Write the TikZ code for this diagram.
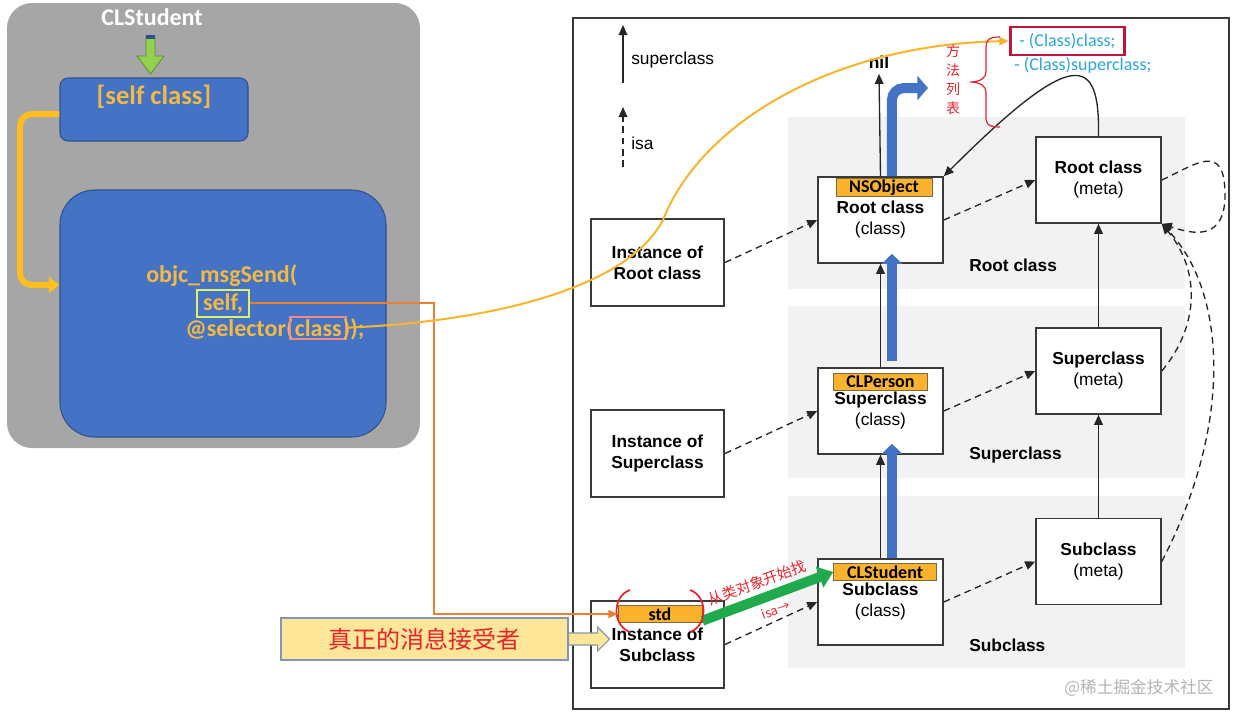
\documentclass[tikz,border=0pt]{standalone}
\usepackage{fontspec}
\setmainfont{Liberation Sans}
\newfontfamily\calfont{Carlito}
\newfontfamily\cjkfont{Noto Sans CJK SC}
\usetikzlibrary{arrows.meta,positioning}
\definecolor{panelgray}{HTML}{A6A6A6}
\definecolor{msgblue}{HTML}{4472C4}
\definecolor{msgblueline}{HTML}{2F528F}
\definecolor{codegold}{HTML}{F4B942}
\definecolor{elbowgold}{HTML}{FFBE1E}
\definecolor{selfgreen}{HTML}{DDF06A}
\definecolor{classpink}{HTML}{F08C84}
\definecolor{lineorange}{HTML}{ED7D31}
\definecolor{curvegold}{HTML}{F7B52C}
\definecolor{tagfill}{HTML}{FBB22C}
\definecolor{tagline}{HTML}{7A6A40}
\definecolor{bandgray}{HTML}{F2F2F2}
\definecolor{boxline}{HTML}{3A3A3A}
\definecolor{pathgreen}{HTML}{1FAA4E}
\definecolor{downgreen}{HTML}{92D050}
\definecolor{downgreenline}{HTML}{5E8C32}
\definecolor{notefill}{HTML}{FFE699}
\definecolor{noteline}{HTML}{8497B0}
\definecolor{notered}{HTML}{E8232B}
\definecolor{methodblue}{HTML}{2BA6E1}
\definecolor{crimsonbox}{HTML}{C0143C}
\definecolor{markgray}{HTML}{B4B4B4}
\begin{document}
\begin{tikzpicture}[x=0.75pt,y=-0.75pt,
  blackhead/.style={-{Triangle[length=7.5pt,width=6.5pt]}},
  clsbox/.style={draw=boxline,line width=1.2pt,fill=white,minimum width=93.75pt,
    minimum height=64.5pt,inner sep=0pt,align=center,font=\fontsize{13}{15.75}\selectfont},
  instbox/.style={clsbox,minimum width=100pt,minimum height=65pt},
  nametag/.style={draw=tagline,line width=0.6pt,fill=tagfill,inner sep=0pt,
    minimum height=13pt,font=\calfont\bfseries\fontsize{13.5}{14}\selectfont},
  isaline/.style={blackhead,line width=1pt,dash pattern=on 5pt off 3.5pt,draw=black!85},
  supline/.style={blackhead,line width=1pt,draw=black!85},
  bluepath/.style={draw=msgblue,line width=7.5pt,-{Triangle[length=7.5pt,width=15pt]}},
  codetxt/.style={text=codegold,font=\calfont\bfseries\fontsize{18}{20}\selectfont,inner sep=0pt},
  bandlbl/.style={font=\bfseries\fontsize{13}{15}\selectfont,inner sep=0pt},
  methodtxt/.style={text=methodblue,font=\calfont\fontsize{13.5}{15}\selectfont,inner sep=0pt},
  redtxt/.style={text=notered,font=\cjkfont\fontsize{11}{13}\selectfont,inner sep=0pt}]
  \useasboundingbox (0,0) rectangle (1240,719);

  % left panel: [self class] -> objc_msgSend
  \fill[panelgray,rounded corners=18.75pt] (7,3) rectangle (420,448);
  \node[fill=msgblue,draw=msgblueline,line width=0.8pt,rounded corners=6pt,
    minimum width=141pt,minimum height=47.25pt] (selfcls) at (154,109.5) {};
  \node[fill=msgblue,draw=msgblueline,line width=0.8pt,rounded corners=26pt,
    minimum width=244.5pt,minimum height=185.25pt] (msgbox) at (223,313.5) {};
  \node[text=white,font=\calfont\bfseries\fontsize{18}{20}\selectfont] (topname) at (152,17) {CLStudent};
  \draw[fill=downgreen,draw=downgreenline,line width=0.6pt]
    (146,56) -- (146,36) -- (155,36) -- (155,56) -- (164,56) -- (150.5,74) -- (137,56) -- cycle;
  \fill[msgblueline] (146,35) rectangle (155,39);
  \node[codetxt,font=\calfont\bfseries\fontsize{20}{22}\selectfont] (selfclstxt) at (154,97) {[self class]};
  \node[codetxt,anchor=base west] (line1) at (146,282) {objc\_msgSend(};
  \node[codetxt,anchor=base west,draw=selfgreen,line width=1.5pt,inner xsep=4.5pt,inner ysep=2.5pt]
    (selfw) at (196,310) {self,};
  \node[codetxt,anchor=base west] (sel) at (185,336) {@selector(};
  \node[codetxt,anchor=base west,draw=classpink,line width=1.5pt,inner xsep=3.4pt,inner ysep=2pt]
    (clsw) at ([xshift=-3.4pt]sel.base east) {class};
  \node[codetxt,anchor=base west] (tail) at ([xshift=-3.4pt]clsw.base east) {));};
  \coordinate (elbow) at (20,285);
  \draw[draw=elbowgold,line width=4.5pt,rounded corners=9pt,-{Triangle[length=8pt,width=12pt]}]
    ([yshift=-3.4pt]selfcls.west) -| (elbow) -- (msgbox.west |- elbow);

  % right panel
  \draw[boxline,line width=1pt,fill=white] (573,18) rectangle (1229,709);
  \foreach \y in {117,306,496}
    \fill[bandgray] (788,\y) rectangle (1185,\y+172);
  \coordinate (legs0) at (623,83);
  \coordinate (legs1) at (623,25);
  \coordinate (legi0) at (623,167);
  \coordinate (legi1) at (623,107);
  \draw[supline] (legs0) -- (legs1);
  \draw[isaline] (legi0) -- (legi1);
  \node[anchor=west,font=\fontsize{13}{15}\selectfont,inner sep=0pt] (legsup) at (631,60) {superclass};
  \node[anchor=west,font=\fontsize{13}{15}\selectfont,inner sep=0pt] (legisa) at (631,143) {isa};
  \node[bandlbl] (nil) at (879,62) {nil};
  \node[bandlbl,anchor=west] (bandroot) at (969,265) {Root class};
  \node[bandlbl,anchor=west] (bandsup) at (969,455) {Superclass};
  \node[bandlbl,anchor=west] (bandsub) at (969,645) {Subclass};

  \node[instbox] (instroot) at (657.5,262.5) {\textbf{Instance of}\\\textbf{Root class}};
  \node[instbox] (instsup) at (657.5,453.5) {\textbf{Instance of}\\\textbf{Superclass}};
  \node[instbox] (instsub) at (657.5,644.5) {\textbf{Instance of}\\\textbf{Subclass}};
  \node[clsbox] (rootcls) at (880.5,220) {\textbf{Root class}\\(class)};
  \node[clsbox] (supcls) at (880.5,411) {\textbf{Superclass}\\(class)};
  \node[clsbox] (subcls) at (880.5,602) {\textbf{Subclass}\\(class)};
  \node[clsbox] (rootmeta) at (1098.5,180) {\textbf{Root class}\\(meta)};
  \node[clsbox] (supmeta) at (1098.5,371) {\textbf{Superclass}\\(meta)};
  \node[clsbox] (submeta) at (1098.5,561.5) {\textbf{Subclass}\\(meta)};

  % isa
  \draw[isaline] (instroot.east) -- (rootcls.west);
  \draw[isaline] (instsup.east) -- (supcls.west);
  \draw[isaline] (instsub.east) -- (subcls.west);
  \draw[isaline] (rootcls.east) -- (rootmeta.west);
  \draw[isaline] (supcls.east) -- (supmeta.west);
  \draw[isaline] (subcls.east) -- (submeta.west);
  \draw[isaline] (rootmeta.east) .. controls (1195,165) and (1225,140) .. (1225,195)
    .. controls (1225,240) and (1195,235) .. (rootmeta.south east);
  \draw[isaline] (supmeta.east) .. controls (1200,325) and (1200,270) .. (rootmeta.south east);
  \draw[isaline] (submeta.east) .. controls (1235,420) and (1225,290) .. (rootmeta.south east);
  % superclass
  \draw[supline] (subcls.north) -- (supcls.south);
  \draw[supline] (supcls.north) -- (rootcls.south);
  \draw[supline] (rootcls.north) -- ([yshift=-4pt]nil.south);
  \draw[supline] (submeta.north) -- (supmeta.south);
  \draw[supline] (supmeta.north) -- (rootmeta.south);
  \draw[supline] (rootmeta.north) .. controls (1100,55) and (1075,45) .. (rootcls.north east);

  % lookup path
  \coordinate (blueturn) at (928,88);
  \draw[bluepath] ([xshift=8.6pt]subcls.north) -- ([xshift=8.6pt,yshift=8.25pt]supcls.south);
  \draw[bluepath] ([xshift=8.6pt,yshift=4.5pt]supcls.north) -- ([xshift=8.6pt,yshift=7.5pt]rootcls.south);
  \draw[bluepath,rounded corners=9pt,-{Triangle[length=8pt,width=18pt]}]
    ([xshift=8.6pt]rootcls.north) |- (blueturn);

  \node[nametag,minimum width=72pt] (nstag) at (884,187.5) {NSObject};
  \node[nametag,minimum width=71pt] (pertag) at (880.5,382) {CLPerson};
  \node[nametag,minimum width=77pt] (stutag) at (885,572) {CLStudent};
  \node[nametag,minimum width=63pt] (std) at (660,614) {std};

  \draw[draw=pathgreen,line width=7.5pt,-{Triangle[length=11pt,width=16pt]}]
    ([yshift=-5pt]std.east) -- (stutag.west);
  \node[redtxt,rotate=20] (findlbl) at (757,583) {从类对象开始找};
  \node[redtxt,rotate=20,font=\cjkfont\fontsize{9.5}{11}\selectfont] (isalbl) at (776,610) {isa→};
  \draw[notered,line width=1.3pt] (630,590) .. controls (612,596) and (612,626) .. (630,632);
  \draw[notered,line width=1.3pt] (690,590) .. controls (708,596) and (708,626) .. (690,632);

  % receiver and selector
  \coordinate (turn) at (434,0);
  \draw[draw=lineorange,line width=1.5pt,-{Triangle[length=7pt,width=6pt]}]
    (selfw.east) -| (turn |- std.west) -- (std.west);
  \node[methodtxt,draw=crimsonbox,line width=2.2pt,inner xsep=5pt,minimum width=86pt,
    minimum height=21pt] (clsm) at (1067.5,41) {- (Class)class;};
  \node[methodtxt,anchor=west] (supm) at (1014,65) {- (Class)superclass;};
  \draw[draw=curvegold,line width=1.5pt,-{Triangle[length=7pt,width=6pt]}]
    (clsw.east) .. controls (480,322) and (625,292) .. (663,220)
    .. controls (700,125) and (830,45) .. (clsm.west);
  \draw[notered,line width=0.9pt] (1000,37) .. controls (988,37) and (986,40) .. (986,50) -- (986,72)
    .. controls (986,78) and (980,82) .. (970,82) .. controls (980,82) and (986,86) .. (986,92)
    -- (986,117) .. controls (986,124) and (988,127) .. (1000,127);
  \node[redtxt,align=center,font=\cjkfont\fontsize{10.5}{14.25}\selectfont] (mlist) at (953,80) {方\\法\\列\\表};

  \node[fill=notefill,draw=noteline,line width=0.9pt,minimum width=215.25pt,minimum height=31.5pt,
    text=notered,font=\cjkfont\fontsize{18}{20}\selectfont] (recv) at (424.5,639) {真正的消息接受者};
  \draw[fill=notefill,draw=noteline,line width=0.9pt] ([yshift=4.5pt]recv.east) -- ++(29,0) -- ++(0,-6)
    -- ++(12,12) -- ++(-12,12) -- ++(0,-6) -- ++(-29,0) -- cycle;

  \node[text=markgray,font=\cjkfont\fontsize{12.5}{14}\selectfont] (mark) at (1139,688) {@稀土掘金技术社区};
\end{tikzpicture}
\end{document}
